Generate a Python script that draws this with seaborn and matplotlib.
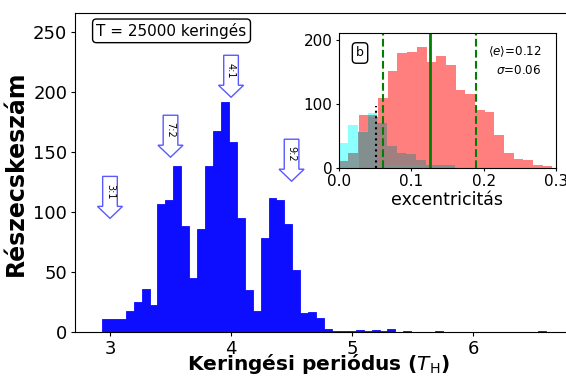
import numpy as np
import pandas as pd
import matplotlib
matplotlib.use("Agg")
import matplotlib.pyplot as plt
import seaborn as sns

# ---------------- data ----------------
period_bin_start = 2.934
period_bin_width = 0.0655
period_counts = [11, 11, 11, 18, 25, 36, 23, 107, 110, 139, 89, 45, 86, 139, 168,
                 192, 159, 95, 35, 18, 79, 112, 110, 90, 52, 16, 17, 12, 3, 1,
                 1, 1, 2, 1, 2, 1, 3, 0, 1, 0, 0, 0, 1, 0, 0,
                 0, 0, 0, 0, 0, 0, 0, 0, 0, 0, 1, 0, 0, 0, 0]

res_labels = ["3:1", "7:2", "4:1", "9:2"]
res_periods = [3.0, 3.5, 4.0, 4.5]
res_arrow_tip = [95, 146, 196, 126]

ecc_bin_width = 0.01335
red_start = 0.0276
red_counts = [82, 80, 109, 152, 179, 181, 188, 165, 175, 161,
              121, 115, 90, 87, 51, 23, 14, 12, 5, 3]
cyan_start = 0.0
cyan_counts = [39, 67, 57, 86, 5, 5, 5, 5, 5, 5, 5, 4]
gray_start = 0.0
gray_counts = [11, 23, 56, 82, 70, 35, 23, 22, 13, 5, 5, 4]

ecc_mean = 0.1255
ecc_sigma = 0.064
ecc_dotted = 0.0514
ecc_dotted_top = 97

title_text = "T = 25000 keringés"
xlabel_main = r"Keringési periódus ($T_\mathrm{H}$)"
ylabel_main = "Részecskeszám"
xlabel_inset = "excentricitás"
panel_label = "b"
mean_text = r"$\langle e\rangle$=0.12"
sigma_text = r"$\sigma$=0.06"

# ---------------- figure ----------------
W, H = 566, 381
fig = plt.figure(figsize=(W / 100, H / 100), dpi=100)


def px_axes(l, t, r, b):
    return fig.add_axes([l / W, 1 - b / H, (r - l) / W, (b - t) / H])


def weighted_hist(ax, counts, start, width, **kw):
    e = start + width * np.arange(len(counts) + 1)
    df = pd.DataFrame({"val": 0.5 * (e[:-1] + e[1:]),
                       "n": np.asarray(counts, dtype=float)})
    sns.histplot(data=df, x="val", weights="n", bins=list(e), ax=ax, **kw)


ax = px_axes(75, 13.3, 570, 332.3)
weighted_hist(ax, period_counts, period_bin_start, period_bin_width,
              color="#0d0dff", edgecolor="#0d0dff", alpha=1, linewidth=0.6)
ax.set_xlim(2.711, 6.8)
ax.set_ylim(0, 266)
ax.set_xticks([3, 4, 5, 6])
ax.set_yticks([0, 50, 100, 150, 200, 250])
ax.tick_params(labelsize=13, length=3, pad=2.5)
ax.set_xlabel(xlabel_main, fontsize=14.5, fontweight="bold")
ax.xaxis.set_label_coords(0.491, -0.063)
ax.set_ylabel(ylabel_main, fontsize=17, fontweight="bold", labelpad=4)

arrow_len = 35
for lab, xp, tip in zip(res_labels, res_periods, res_arrow_tip):
    ax.arrow(xp, tip + arrow_len, 0, -arrow_len, width=0.121, head_width=0.207,
             head_length=10, length_includes_head=True, fc="white",
             ec=(0.35, 0.35, 1.0), lw=1, zorder=3)
    ax.text(xp, tip + 22.5, lab, rotation=-90, ha="center", va="center",
            fontsize=7, zorder=4)

ax.text(0.195, 0.945, title_text, transform=ax.transAxes, ha="center",
        va="center", fontsize=11,
        bbox=dict(boxstyle="round,pad=0.25", fc="white", ec="black"))

# ---------------- inset ----------------
ax2 = px_axes(338.7, 32.7, 556.3, 168)
weighted_hist(ax2, red_counts, red_start, ecc_bin_width,
              color="red", alpha=0.5, linewidth=0, edgecolor="none")
weighted_hist(ax2, cyan_counts, cyan_start, ecc_bin_width,
              color="cyan", alpha=0.45, linewidth=0, edgecolor="none")
weighted_hist(ax2, gray_counts, gray_start, ecc_bin_width,
              color="gray", alpha=0.75, linewidth=0, edgecolor="none")

ax2.axvline(ecc_mean, color="green", lw=2)
ax2.axvline(ecc_mean - ecc_sigma, color="green", lw=1.5, ls="--")
ax2.axvline(ecc_mean + ecc_sigma, color="green", lw=1.5, ls="--")
ax2.vlines(ecc_dotted, 0, ecc_dotted_top, color="black", lw=1.5, linestyles=":")

ax2.set_xlim(0, 0.3)
ax2.set_ylim(0, 211)
ax2.set_xticks([0.0, 0.1, 0.2, 0.3])
ax2.set_yticks([0, 100, 200])
ax2.tick_params(labelsize=11, length=2.5, pad=2)
ax2.set_ylabel("")
ax2.set_xlabel(xlabel_inset, fontsize=12.5, labelpad=1)
ax2.text(0.933, 0.862, mean_text, transform=ax2.transAxes, ha="right",
         va="center", fontsize=8.6)
ax2.text(0.933, 0.722, sigma_text, transform=ax2.transAxes, ha="right",
         va="center", fontsize=8.6)
ax2.text(0.098, 0.85, panel_label, transform=ax2.transAxes, ha="center",
         va="center", fontsize=9,
         bbox=dict(boxstyle="round,pad=0.3", fc="white", ec="black"))

fig.savefig("out.png", dpi=100)
